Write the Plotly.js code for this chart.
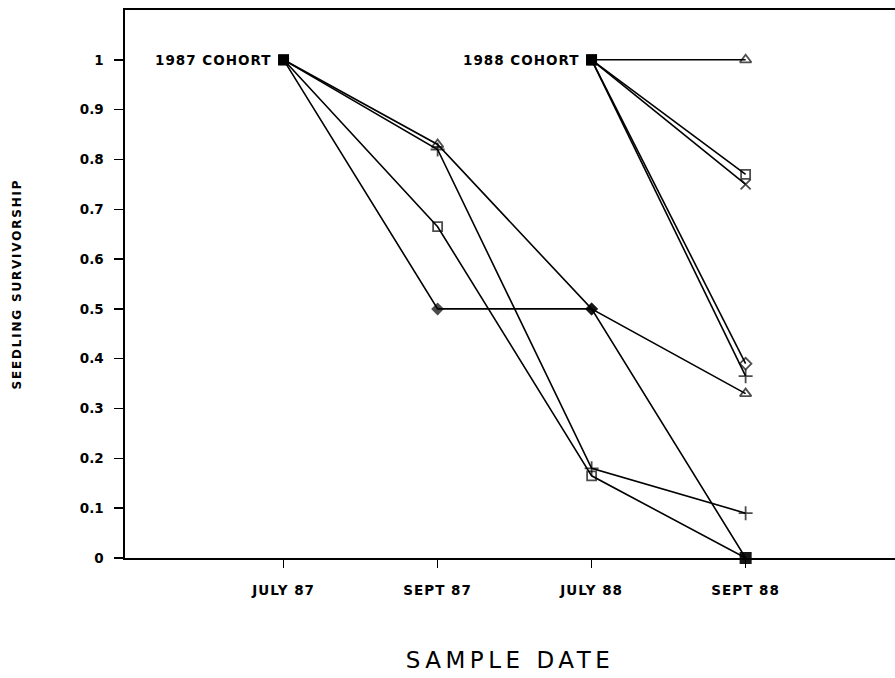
<!DOCTYPE html>
<html>
<head>
<meta charset="utf-8">
<script src="https://cdn.plot.ly/plotly-3.0.1.min.js"></script>
<style>
html,body{margin:0;padding:0;background:#fff;}
#chart{width:895px;height:678px;}
.xtitle{letter-spacing:4.5px;}
.ytitle{letter-spacing:1.8px;}
.xtick text{letter-spacing:1px;}
.annotation-text{letter-spacing:1px;}
</style>
</head>
<body>
<div id="chart"></div>
<script>
// ---- data ----
const sampleDates = ['JULY 87', 'SEPT 87', 'JULY 88', 'SEPT 88'];
const cohort88Dates = ['JULY 88', 'SEPT 88'];

// 1987 cohort (four series)
const c87Triangle = [1, 0.83, 0.50, 0.33];
const c87Plus     = [1, 0.82, 0.18, 0.09];
const c87Square   = [1, 0.665, 0.165, 0];
const c87Diamond  = [1, 0.50, 0.50, 0];

// 1988 cohort (five series)
const c88Triangle = [1, 1.0];
const c88Square   = [1, 0.77];
const c88Cross    = [1, 0.75];
const c88Diamond  = [1, 0.39];
const c88Plus     = [1, 0.365];

const yTicks = [0, 0.1, 0.2, 0.3, 0.4, 0.5, 0.6, 0.7, 0.8, 0.9, 1];
const yTickText = ['0', '0.1', '0.2', '0.3', '0.4', '0.5', '0.6', '0.7', '0.8', '0.9', '1'];
const cohortLabels = ['1987 COHORT', '1988 COHORT'];

// ---- styling helpers ----
const BLACK = '#000';
function series(x, y, symbols, sizes) {
  return {
    type: 'scatter', mode: 'lines+markers', x: x, y: y,
    line: {color: BLACK, width: 1.6},
    marker: {symbol: symbols, size: sizes, color: BLACK, line: {color: BLACK, width: 1.8}},
    cliponaxis: false, showlegend: false, hoverinfo: 'skip'
  };
}

const data = [
  series(sampleDates, c87Triangle, ['square', 'triangle-up-open', 'diamond', 'triangle-up-open'], [9, 10, 8, 10]),
  series(sampleDates, c87Plus,     ['square', 'cross-thin-open', 'cross-thin-open', 'cross-thin-open'], [9, 10, 10, 10]),
  series(sampleDates, c87Square,   ['square', 'square-open', 'square-open', 'square'], [9, 9, 9, 10]),
  series(sampleDates, c87Diamond,  ['square', 'diamond', 'diamond', 'square'], [9, 8, 8, 10]),
  series(cohort88Dates, c88Triangle, ['square', 'triangle-up-open'], [9, 10]),
  series(cohort88Dates, c88Square,   ['square', 'square-open'], [9, 9]),
  series(cohort88Dates, c88Cross,    ['square', 'x-thin-open'], [9, 10]),
  series(cohort88Dates, c88Diamond,  ['square', 'diamond-open'], [9, 9]),
  series(cohort88Dates, c88Plus,     ['square', 'cross-thin-open'], [9, 10])
];

const tickFont = {family: 'DejaVu Sans', size: 13.5, color: BLACK, weight: 'bold'};

const layout = {
  width: 895, height: 678,
  margin: {l: 125, r: 0, t: 10, b: 120},
  paper_bgcolor: '#fff', plot_bgcolor: '#fff',
  xaxis: {
    type: 'category', categoryorder: 'array', categoryarray: sampleDates,
    range: [-1.03, 3.97],
    showgrid: false, zeroline: false,
    showline: true, linecolor: BLACK, linewidth: 1.6, mirror: true,
    ticks: 'outside', ticklen: 8, tickwidth: 1.4, tickcolor: BLACK,
    tickfont: tickFont, ticklabelstandoff: 11,
    title: {text: 'SAMPLE DATE', font: {family: 'DejaVu Sans', size: 23, color: BLACK}, standoff: 55}
  },
  yaxis: {
    range: [0, 1.1],
    tickvals: yTicks, ticktext: yTickText,
    showgrid: false, zeroline: false,
    showline: true, linecolor: BLACK, linewidth: 1.6,
    ticks: 'outside', ticklen: 9, tickwidth: 1.4, tickcolor: BLACK,
    tickfont: tickFont, ticklabelstandoff: 8,
    title: {text: 'SEEDLING SURVIVORSHIP', font: {family: 'DejaVu Sans', size: 12, color: BLACK, weight: 'bold'}, standoff: 55}
  },
  annotations: [
    {x: 'JULY 87', y: c87Triangle[0], xref: 'x', yref: 'y', text: cohortLabels[0], showarrow: false,
     xanchor: 'right', yanchor: 'middle', xshift: -11, font: tickFont},
    {x: 'JULY 88', y: c88Triangle[0], xref: 'x', yref: 'y', text: cohortLabels[1], showarrow: false,
     xanchor: 'right', yanchor: 'middle', xshift: -11, font: tickFont}
  ]
};

Plotly.newPlot('chart', data, layout, {staticPlot: true, displayModeBar: false});
</script>
</body>
</html>
